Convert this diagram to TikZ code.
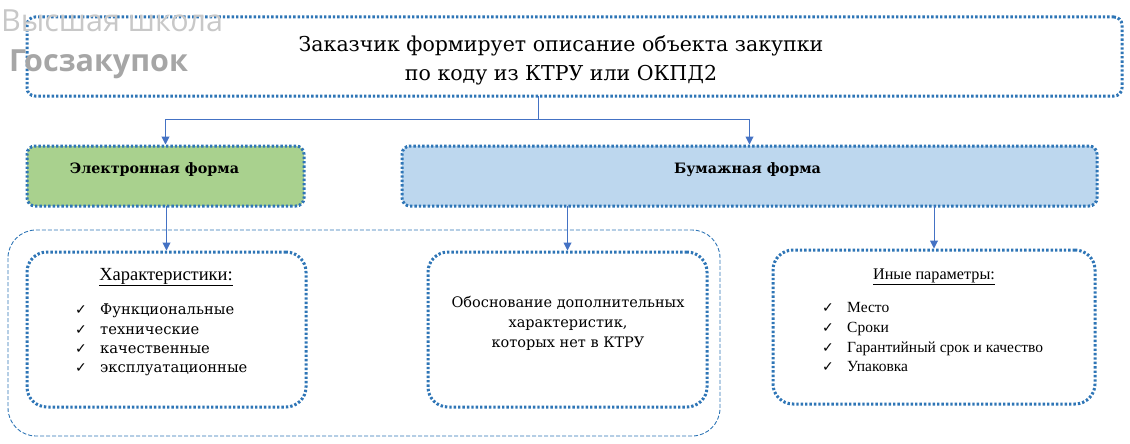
\documentclass[tikz,border=0pt]{standalone}
\usepackage{fontspec}
\usetikzlibrary{arrows.meta}
\setmainfont{Liberation Serif}
\newfontfamily\gserif{DejaVu Serif}
\newfontfamily\symfont{DejaVu Sans}
\newfontfamily\wmfont{Open Sans}
\definecolor{dotblue}{HTML}{2E75B6}
\definecolor{connblue}{HTML}{4472C4}
\definecolor{greenfill}{HTML}{A9D18E}
\definecolor{bluefill}{HTML}{BDD7EE}
\definecolor{wmlight}{HTML}{C8C8C8}
\definecolor{wmdark}{HTML}{A6A6A6}
\tikzset{
  dotbox/.style={draw=dotblue, line width=3pt, dash pattern=on 2.4pt off 2pt,
    rounded corners=#1, minimum width=0pt, inner sep=0pt, outer sep=0pt},
  dotbox/.default=8pt,
  conn/.style={draw=connblue, line width=1pt},
  arr/.style={conn, -{Triangle[width=8pt,length=8pt]}, shorten >=1.5pt},
  lstl/.style={font=\gserif\fontsize{14.7}{19.5}\selectfont, anchor=base west, inner sep=0pt},
  lstr/.style={font=\fontsize{15.5}{19.5}\selectfont, anchor=base west, inner sep=0pt},
  chk/.style={font=\symfont\fontsize{14}{16}\selectfont, anchor=base west, inner sep=0pt},
  lbl/.style={font=\gserif\bfseries\fontsize{14.3}{17}\selectfont, inner sep=0pt},
}
\begin{document}
\begin{tikzpicture}[x=1pt,y=-1pt]
\useasboundingbox (0,0) rectangle (1130,444);
% outer dashed container
\draw[draw=dotblue, line width=0.9pt, dash pattern=on 4pt off 2pt, rounded corners=28pt]
  (8,230) rectangle (720,436);
% boxes
\node[dotbox, minimum width=1095pt, minimum height=79pt] (top) at (574.5,56.5) {};
\node[align=center, font=\gserif\fontsize{20.5}{29}\selectfont, inner sep=0pt] (title) at (561,60)
  {Заказчик формирует описание объекта закупки\\по коду из КТРУ или ОКПД2};
\node[dotbox, fill=greenfill, minimum width=277pt, minimum height=60pt] (green) at (165.5,176) {};
\node[lbl] (greentxt) at (154.5,170) {Электронная форма};
\node[dotbox, fill=bluefill, minimum width=695pt, minimum height=60pt] (blue) at (749.5,176) {};
\node[lbl] (bluetxt) at (747.5,170) {Бумажная форма};
\node[dotbox=20pt, minimum width=279pt, minimum height=155pt] (left) at (166.5,329.5) {};
\node[dotbox=20pt, minimum width=279pt, minimum height=155pt] (mid) at (567.5,329.5) {};
\node[dotbox=20pt, minimum width=322pt, minimum height=154pt] (right) at (934,327) {};
% connectors
\coordinate (j) at (538,119);
\draw[conn] (top.south -| j) -- (j);
\draw[arr] (j) -| (green.north);
\draw[arr] (j) -| (blue.north);
\draw[arr] (green.south -| left.north) -- (left.north);
\draw[arr] (blue.south -| mid.north) -- (mid.north);
\draw[arr] (blue.south -| right.north) -- (right.north);
% left content
\node[font=\fontsize{18.5}{22}\selectfont, inner sep=0pt] (lh) at (166,277) {\underline{Характеристики:}};
\foreach \t [count=\i] in {Функциональные,технические,качественные,эксплуатационные}{
  \node[chk] (lc\i) at (75,{295.5+19.3*\i}) {✓};
  \node[lstl] (lt\i) at (100,{295.5+19.3*\i}) {\t};
}
% middle content
\node[align=center, font=\gserif\fontsize{14.5}{20}\selectfont, inner sep=0pt] (mtxt) at (568,323)
  {Обоснование дополнительных\\характеристик,\\которых нет в КТРУ};
% right content
\node[font=\fontsize{16.2}{19}\selectfont, inner sep=0pt] (rh) at (934,277) {\underline{Иные параметры:}};
\foreach \t [count=\i] in {Место,Сроки,Гарантийный срок и качество,Упаковка}{
  \node[chk] (rc\i) at (822,{293+19.7*\i}) {✓};
  \node[lstr] (rt\i) at (847,{293+19.7*\i}) {\t};
}
% watermark
\node[anchor=base west, inner sep=0pt, text=wmlight, font=\wmfont\fontsize{30.5}{31}\selectfont] (wm1) at (1,32) {Высшая школа};
\node[anchor=base west, inner sep=0pt, text=wmdark, font=\wmfont\bfseries\fontsize{30.5}{31}\selectfont] (wm2) at (9,71) {Госзакупок};
\end{tikzpicture}
\end{document}
